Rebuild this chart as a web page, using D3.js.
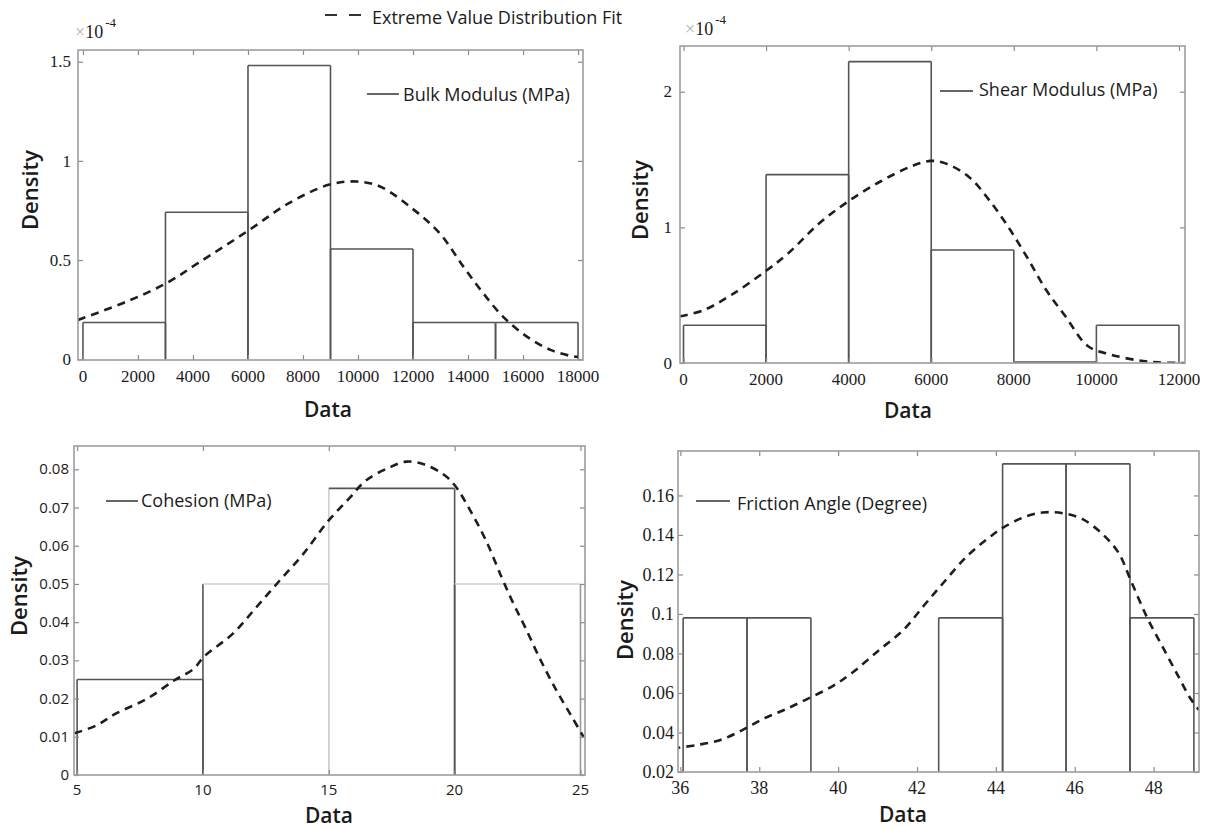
<!DOCTYPE html>
<html>
<head>
<meta charset="utf-8">
<script src="https://cdn.jsdelivr.net/npm/d3@7"></script>
<style>
  body { margin: 0; background: #fff; }
  svg { display: block; }
  .serif { font-family: "Liberation Serif", "Times New Roman", "DejaVu Serif", serif; }
  .sans { font-family: "Open Sans", "Noto Sans", sans-serif; }
</style>
</head>
<body>
<svg id="fig" width="1216" height="828"></svg>
<script>
// ---------------- data ----------------
// Bulk modulus (MPa): histogram density in units of 1e-4
const bulkBinEdges = [0, 3000, 6000, 9000, 12000, 15000, 18000];
const bulkDensity  = [0.185, 0.741, 1.481, 0.556, 0.185, 0.185];
const bulkFitX = [-180, 1580, 3030, 4180, 6050, 7490, 8930, 9940, 10800, 11960, 12970, 13830, 14550, 15270, 16140, 17000, 17720, 18000];
const bulkFitY = [0.198, 0.29, 0.383, 0.484, 0.652, 0.787, 0.879, 0.896, 0.871, 0.761, 0.635, 0.467, 0.333, 0.215, 0.114, 0.047, 0.017, 0.012];
const bulkXTicks = [0, 2000, 4000, 6000, 8000, 10000, 12000, 14000, 16000, 18000];
const bulkYTicks = [0, 0.5, 1, 1.5];

// Shear modulus (MPa): histogram density in units of 1e-4
const shearBinEdges = [0, 2000, 4000, 6000, 8000, 10000, 12000];
const shearDensity  = [0.278, 1.389, 2.222, 0.833, 0, 0.278];
const shearFitX = [-85, 490, 1150, 1980, 2540, 3290, 4030, 4780, 5520, 5990, 6360, 6920, 7380, 7850, 8310, 8780, 9250, 9800, 10360, 11000, 11500, 12140];
const shearFitY = [0.344, 0.39, 0.50, 0.675, 0.81, 1.03, 1.20, 1.34, 1.45, 1.49, 1.47, 1.37, 1.21, 1.01, 0.785, 0.54, 0.344, 0.123, 0.061, 0.02, 0.005, 0];
const shearXTicks = [0, 2000, 4000, 6000, 8000, 10000, 12000];
const shearYTicks = [0, 1, 2];

// Cohesion (MPa)
const cohesionBinEdges = [5, 10, 15, 20, 25];
const cohesionDensity  = [0.025, 0.05, 0.075, 0.05];
const cohesionFitX = [4.9, 5.77, 6.55, 7.79, 8.87, 9.64, 10.03, 11.19, 12.12, 13.05, 13.98, 14.98, 15.84, 16.46, 17.38, 18.08, 18.78, 19.55, 20.02, 20.63, 21.25, 21.87, 22.34, 22.8, 23.42, 24.04, 24.66, 25.12];
const cohesionFitY = [0.0109, 0.013, 0.0161, 0.020, 0.0248, 0.0278, 0.0309, 0.037, 0.0439, 0.0509, 0.0578, 0.0665, 0.0726, 0.077, 0.0804, 0.082, 0.0813, 0.0787, 0.0757, 0.0691, 0.0613, 0.0517, 0.0448, 0.0387, 0.030, 0.0222, 0.0152, 0.010];
const cohesionXTicks = [5, 10, 15, 20, 25];
const cohesionYTicks = [0, 0.01, 0.02, 0.03, 0.04, 0.05, 0.06, 0.07, 0.08];

// Friction angle (degree)
const frictionBinEdges = [36.07, 37.69, 39.31, 40.93, 42.55, 44.17, 45.78, 47.40, 49.02];
const frictionDensity  = [0.098, 0.098, 0, 0, 0.098, 0.176, 0.176, 0.098];
const frictionFitX = [35.8, 36.4, 37.0, 37.57, 38.12, 38.63, 39.2, 39.84, 40.34, 41.05, 41.66, 42.16, 42.67, 43.27, 43.88, 44.18, 44.69, 45.19, 45.7, 46.2, 46.71, 47.11, 47.41, 47.82, 48.22, 48.63, 48.93, 49.15];
const frictionFitY = [0.0319, 0.0336, 0.0361, 0.0412, 0.0471, 0.0514, 0.0568, 0.0632, 0.070, 0.0819, 0.092, 0.1039, 0.1158, 0.1293, 0.1395, 0.1437, 0.1488, 0.1514, 0.151, 0.148, 0.1403, 0.131, 0.1175, 0.0988, 0.0836, 0.0683, 0.0573, 0.0514];
const frictionXTicks = [36, 38, 40, 42, 44, 46, 48];
const frictionYTicks = [0.02, 0.04, 0.06, 0.08, 0.1, 0.12, 0.14, 0.16];

// ---------------- styles ----------------
const BOX = "#9d9d9d";
const BAR = "#555";
const BAR_LIGHT = "#cfcfcf";
const FIT = "#1e1e1e";
const INK = "#1b1b1b";

// per-bar edge colours [left, top, right] for the cohesion histogram
const cohesionEdgeStyle = [
  [BAR, BAR, BAR],
  [BAR, BAR_LIGHT, BAR_LIGHT],
  [BAR_LIGHT, BAR, BAR],
  [BAR, BAR_LIGHT, "#999"]
];

const svg = d3.select("#fig");

// top legend for the fitted curve
svg.append("line").attr("x1", 325).attr("x2", 361).attr("y1", 15).attr("y2", 15)
  .attr("stroke", "#333").attr("stroke-width", 2).attr("stroke-dasharray", "12,12");
svg.append("text").attr("class", "sans").attr("x", 372).attr("y", 23.5)
  .attr("font-size", 18).attr("fill", INK)
  .text("Extreme Value Distribution Fit");

let clipId = 0;

function drawPanel(cfg) {
  const { box, xDomain, yDomain } = cfg;
  const x = d3.scaleLinear().domain(xDomain).range([box.left, box.right]);
  const y = d3.scaleLinear().domain(yDomain).range([box.bottom, box.top]);
  const g = svg.append("g");

  const cid = "clip" + (clipId++);
  g.append("clipPath").attr("id", cid).append("rect")
    .attr("x", box.left).attr("y", box.top)
    .attr("width", box.right - box.left).attr("height", box.bottom - box.top);

  const plot = g.append("g").attr("clip-path", `url(#${cid})`);

  // histogram bars, drawn edge by edge
  const bars = cfg.density.map((d, i) => ({ x0: cfg.edges[i], x1: cfg.edges[i + 1], d, i }));
  bars.forEach(b => {
    const st = cfg.edgeStyle ? cfg.edgeStyle[b.i] : [BAR, BAR, BAR];
    const xa = x(b.x0), xb = x(b.x1), y0 = y(0), yt = y(b.d);
    const segs = [
      [xa, y0, xa, yt, st[0]],
      [xa, yt, xb, yt, st[1]],
      [xb, yt, xb, y0, st[2]]
    ];
    segs.forEach(s => {
      plot.append("line").attr("x1", s[0]).attr("y1", s[1]).attr("x2", s[2]).attr("y2", s[3])
        .attr("stroke", s[4]).attr("stroke-width", 1.6);
    });
    if (b.d === 0) {
      plot.append("line").attr("x1", xa).attr("x2", xb).attr("y1", y0 - 1).attr("y2", y0 - 1)
        .attr("stroke", BAR).attr("stroke-width", 1.6);
    }
  });

  // fitted density curve
  const pts = cfg.fitX.map((v, i) => [v, cfg.fitY[i]]);
  plot.append("path")
    .attr("d", d3.line().x(p => x(p[0])).y(p => y(p[1])).curve(d3.curveCatmullRom.alpha(0.5))(pts))
    .attr("fill", "none").attr("stroke", FIT).attr("stroke-width", 2.6)
    .attr("stroke-dasharray", "8,6");

  // axes box with inward ticks on all four sides
  const tl = 5;
  const axB = g.append("g").attr("transform", `translate(0,${box.bottom})`)
    .call(d3.axisBottom(x).tickValues(cfg.xTicks).tickSize(-tl).tickFormat(""));
  const axT = g.append("g").attr("transform", `translate(0,${box.top})`)
    .call(d3.axisTop(x).tickValues(cfg.xTicks).tickSize(-tl).tickFormat(""));
  const axL = g.append("g").attr("transform", `translate(${box.left},0)`)
    .call(d3.axisLeft(y).tickValues(cfg.yTicks).tickSize(-tl).tickFormat(""));
  const axR = g.append("g").attr("transform", `translate(${box.right},0)`)
    .call(d3.axisRight(y).tickValues(cfg.yTicks).tickSize(-tl).tickFormat(""));
  [axB, axT, axL, axR].forEach(a => {
    a.select(".domain").remove();
    a.selectAll(".tick line").attr("stroke", "#8a8a8a").attr("stroke-width", 1.2);
  });
  g.append("rect").attr("x", box.left).attr("y", box.top)
    .attr("width", box.right - box.left).attr("height", box.bottom - box.top)
    .attr("fill", "none").attr("stroke", BOX).attr("stroke-width", 1.6);

  // tick labels
  const fmt = v => String(+v.toFixed(3));
  g.selectAll(".xl").data(cfg.xTicks).join("text")
    .attr("class", cfg.tickFont)
    .attr("x", d => x(d)).attr("y", box.bottom + cfg.xLabelOff)
    .attr("text-anchor", "middle")
    .attr("font-size", cfg.tickSize).attr("fill", INK)
    .text(fmt);
  g.selectAll(".yl").data(cfg.yTicks).join("text")
    .attr("class", cfg.tickFont)
    .attr("x", box.left - cfg.yLabelPad).attr("y", d => y(d))
    .attr("dy", "0.34em").attr("text-anchor", "end")
    .attr("font-size", cfg.tickSize).attr("fill", INK)
    .text(fmt);

  // axis titles
  g.append("text").attr("class", "sans").attr("x", cfg.xTitle[0]).attr("y", cfg.xTitle[1])
    .attr("text-anchor", "middle").attr("font-weight", 600)
    .attr("font-size", 21).attr("fill", INK).text("Data");
  g.append("text").attr("class", "sans")
    .attr("transform", `translate(${cfg.yTitle[0]},${cfg.yTitle[1]}) rotate(-90)`)
    .attr("text-anchor", "middle").attr("font-weight", 600)
    .attr("font-size", 22).attr("fill", INK).text("Density");

  // series legend
  const lg = cfg.legend;
  g.append("line").attr("x1", lg.x1).attr("x2", lg.x2).attr("y1", lg.ly).attr("y2", lg.ly)
    .attr("stroke", "#333").attr("stroke-width", 1.5);
  g.append("text").attr("class", "sans").attr("x", lg.tx).attr("y", lg.ty)
    .attr("font-size", 18).attr("fill", INK).text(lg.text);

  // exponent marker
  if (cfg.exponent) {
    const e = cfg.exponent;
    const t = g.append("text").attr("class", "serif").attr("x", e[0]).attr("y", e[1])
      .attr("font-size", 18).attr("fill", INK);
    t.append("tspan").attr("fill", "#b0b0b0").text("\u00d7");
    t.append("tspan").text("10");
    t.append("tspan").attr("font-size", 13).attr("dx", 2).attr("dy", -11).text("-4");
  }
}

drawPanel({
  box: { left: 78, top: 50, right: 583, bottom: 360 },
  xDomain: [-180, 18180], yDomain: [-0.004, 1.559],
  edges: bulkBinEdges, density: bulkDensity, fitX: bulkFitX, fitY: bulkFitY,
  xTicks: bulkXTicks, yTicks: bulkYTicks,
  tickFont: "serif", tickSize: 17, xLabelOff: 22, yLabelPad: 7,
  xTitle: [328, 417], yTitle: [38, 190],
  legend: { x1: 367, x2: 399, ly: 94, tx: 403, ty: 101, text: "Bulk Modulus (MPa)" },
  exponent: [75, 38]
});

drawPanel({
  box: { left: 680, top: 46, right: 1185, bottom: 363 },
  xDomain: [-85, 12146], yDomain: [0, 2.337],
  edges: shearBinEdges, density: shearDensity, fitX: shearFitX, fitY: shearFitY,
  xTicks: shearXTicks, yTicks: shearYTicks,
  tickFont: "serif", tickSize: 17, xLabelOff: 22, yLabelPad: 8,
  xTitle: [908, 418], yTitle: [648, 200],
  legend: { x1: 940, x2: 973, ly: 91, tx: 979, ty: 96, text: "Shear Modulus (MPa)" },
  exponent: [685, 35]
});

drawPanel({
  box: { left: 74, top: 446, right: 585, bottom: 775 },
  xDomain: [4.877, 25.18], yDomain: [0, 0.0861],
  edges: cohesionBinEdges, density: cohesionDensity, fitX: cohesionFitX, fitY: cohesionFitY,
  edgeStyle: cohesionEdgeStyle,
  xTicks: cohesionXTicks, yTicks: cohesionYTicks,
  tickFont: "sans", tickSize: 15, xLabelOff: 20, yLabelPad: 5,
  xTitle: [329, 823], yTitle: [27, 596],
  legend: { x1: 106, x2: 138, ly: 501, tx: 141, ty: 507, text: "Cohesion (MPa)" }
});

drawPanel({
  box: { left: 678, top: 451, right: 1199, bottom: 772 },
  xDomain: [35.94, 49.15], yDomain: [0.02, 0.1825],
  edges: frictionBinEdges, density: frictionDensity, fitX: frictionFitX, fitY: frictionFitY,
  xTicks: frictionXTicks, yTicks: frictionYTicks,
  tickFont: "serif", tickSize: 18, xLabelOff: 22, yLabelPad: 4,
  xTitle: [903, 822], yTitle: [633, 620],
  legend: { x1: 696, x2: 730, ly: 501, tx: 737, ty: 510, text: "Friction Angle (Degree)" }
});
</script>
</body>
</html>
